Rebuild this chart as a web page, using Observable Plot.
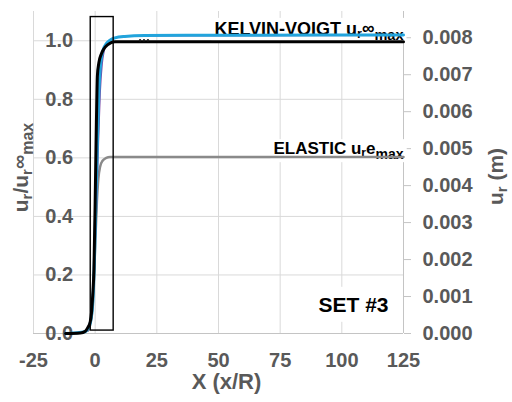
<!DOCTYPE html>
<html><head><meta charset="utf-8">
<script src="https://cdn.jsdelivr.net/npm/d3@7"></script>
<script src="https://cdn.jsdelivr.net/npm/@observablehq/plot@0.6"></script>
<style>body{margin:0;background:#fff}svg{display:block}</style>
</head><body><div id="chart"></div>
<script>
// ---- data ----
const xTicks = [-25, 0, 25, 50, 75, 100, 125];
const yTicks = [0, 0.2, 0.4, 0.6, 0.8, 1.0];
const rightTicks = [0, 0.001, 0.002, 0.003, 0.004, 0.005, 0.006, 0.007, 0.008];
const yMax = 1.1;            // top of the left axis
const rightAtTop = 0.00871;  // right-axis value (m) at the top of the plot

const blackX = [-12, -6, -4, -3, -2, -1.5, -1, -0.5, 0, 0.5, 0.9, 1.5, 2.5, 3.5, 5, 6.5, 8, 125];
const blackY = [0, 0.002, 0.008, 0.02, 0.04, 0.07, 0.13, 0.22, 0.45, 0.72, 0.88, 0.925, 0.955, 0.972, 0.986, 0.994, 0.997, 0.997];

const blueX = [-12, -4, -3, -2, -1, -0.3, 0.3, 0.9, 1.5, 2, 2.7, 3.5, 4.5, 6, 8, 12, 20, 50, 125];
const blueY = [0, 0.006, 0.015, 0.035, 0.1, 0.25, 0.45, 0.65, 0.82, 0.9, 0.95, 0.975, 0.99, 1.002, 1.01, 1.015, 1.018, 1.019, 1.02];

const purpleX = [-3, -1.5, -0.5, 0.5, 1.3, 2, 2.8, 3.6, 4.8, 6.5, 9, 15, 125];
const purpleY = [0.01, 0.06, 0.2, 0.42, 0.65, 0.82, 0.92, 0.965, 0.99, 1.005, 1.012, 1.017, 1.019];

const grayX = [-3, -2, -1, 0, 0.7, 1.3, 2, 3, 4.5, 6, 125];
const grayY = [0.01, 0.03, 0.1, 0.3, 0.45, 0.53, 0.57, 0.59, 0.6, 0.603, 0.603];

const dotX = [18.2, 19.8, 21.4];
const dotY = [1.002, 1.002, 1.002];

const boxX = [-1.8, 7.5];
const boxY = [0.01, 1.081];

// rich-text labels: [text, font-size, baseline shift down (px)]
const kvLabel = [["KELVIN-VOIGT u", 18, 0], ["r", 12.5, 3], ["∞", 17.5, -1], ["max", 14.5, 5]];
const elLabel = [["ELASTIC u", 17, 0], ["r", 12, 3], ["e", 17, 0], ["max", 14, 5]];
const setLabel = [["SET #3", 21, 0]];
const yTitle = [["u", 21, 0], ["r", 15, 4], ["/u", 21, 0], ["r", 15, 4], ["∞", 20, -2], ["max", 16, 5]];
const y2Title = [["u", 21, 0], ["r", 15, 4], [" (m)", 21, 0]];
const xTitle = "X (x/R)";

const plain = parts => parts.map(p => p[0]).join("");
const series = (xs, ys) => xs.map((x, i) => ({x, y: ys[i]}));
const k = yMax / rightAtTop;

const grid = "#d9d9d9", axisCol = "#c4c4c4", labelCol = "#595959";

const svg = Plot.plot({
  width: 512, height: 402,
  marginLeft: 33, marginRight: 109, marginTop: 11, marginBottom: 69,
  x: {domain: [-25, 125]},
  y: {domain: [0, yMax]},
  style: {fontFamily: "'Liberation Sans', Arial, sans-serif", fontWeight: "bold", background: "#fff", overflow: "visible"},
  marks: [
    Plot.gridX(xTicks.filter(d => d < 125), {stroke: grid, strokeOpacity: 1}),
    Plot.gridY(yTicks.filter(d => d > 0), {stroke: grid, strokeOpacity: 1}),
    Plot.ruleY([0], {stroke: axisCol}),
    Plot.ruleX([125], {stroke: axisCol}),
    Plot.axisX(xTicks, {tickSize: 0, tickPadding: 19, fontSize: 20, fill: labelCol, label: null, tickFormat: d => String(d)}),
    Plot.axisY(rightTicks.map(v => v * k), {anchor: "right", tickSize: 7, tickPadding: 12, stroke: axisCol,
      fill: labelCol, fontSize: 20, label: null, tickFormat: d => (d / k).toFixed(3)}),
    Plot.text(yTicks, {x: () => 0, y: d => d, text: d => d.toFixed(1), textAnchor: "end", dx: -22, fontSize: 20, fill: labelCol}),
    Plot.text([xTitle], {frameAnchor: "bottom", dx: 8, dy: 55, fontSize: 22, fill: labelCol}),
    Plot.text([plain(yTitle)], {frameAnchor: "left", rotate: -90, dx: -12, dy: -5, fontSize: 21, fill: labelCol}),
    Plot.text([plain(y2Title)], {frameAnchor: "right", rotate: -90, dx: 93, dy: 4, fontSize: 21, fill: labelCol}),
    Plot.text([plain(kvLabel)], {frameAnchor: "top-right", textAnchor: "end", dy: 10.6, fontSize: 18, fill: "#000"}),
    Plot.text([plain(elLabel)], {frameAnchor: "top-right", textAnchor: "end", dy: 130.6, fontSize: 17, fill: "#000"}),
    Plot.text([plain(setLabel)], {frameAnchor: "bottom-right", textAnchor: "end", dx: -15, dy: -21.7, fontSize: 21, fill: "#000"}),
    Plot.line(series(grayX, grayY), {x: "x", y: "y", stroke: "#8a8a8a", strokeWidth: 2.5, curve: "monotone-x"}),
    Plot.line(series(purpleX, purpleY), {x: "x", y: "y", stroke: "#7b3fa0", strokeWidth: 1.5, curve: "monotone-x"}),
    Plot.line(series(blueX, blueY), {x: "x", y: "y", stroke: "#22a4dc", strokeWidth: 3, curve: "monotone-x"}),
    Plot.line(series(blackX, blackY), {x: "x", y: "y", stroke: "#000", strokeWidth: 3, curve: "monotone-x"}),
    Plot.dot(series(dotX, dotY), {x: "x", y: "y", r: 1.2, fill: "#222"}),
    Plot.rect([0], {x1: () => boxX[0], x2: () => boxX[1], y1: () => boxY[0], y2: () => boxY[1], fill: "none", stroke: "#000", strokeWidth: 1.4})
  ]
});
document.getElementById("chart").appendChild(svg);

const NS = "http://www.w3.org/2000/svg";
function richify(parts, opts = {}) {
  const target = plain(parts);
  svg.querySelectorAll("text").forEach(t => {
    if (t.textContent !== target) return;
    t.textContent = "";
    let prev = 0;
    parts.forEach(([s, size, shift]) => {
      const ts = document.createElementNS(NS, "tspan");
      ts.textContent = s;
      ts.setAttribute("font-size", size);
      if (shift !== prev) ts.setAttribute("dy", shift - prev);
      prev = shift;
      t.appendChild(ts);
    });
    if (opts.center) {
      // keep the whole rich string centred on its anchor
      t.setAttribute("text-anchor", "start");
      const b = t.getBBox();
      t.setAttribute("x", -(b.width / 2) - (b.x - (+t.getAttribute("x") || 0)) );
    }
    if (opts.box) {
      const pad = opts.box;
      const b = t.getBBox();
      const r = document.createElementNS(NS, "rect");
      r.setAttribute("x", b.x - pad[0]);
      r.setAttribute("y", b.y - pad[1]);
      r.setAttribute("width", b.width + 2 * pad[0]);
      r.setAttribute("height", b.height + 2 * pad[1]);
      r.setAttribute("fill", "#fff");
      r.setAttribute("stroke", "none");
      if (t.getAttribute("transform")) r.setAttribute("transform", t.getAttribute("transform"));
      t.parentNode.insertBefore(r, t);
    }
  });
}
richify(kvLabel, {box: [3, 0]});
richify(elLabel, {box: [3, 0]});
richify(setLabel, {box: [5, 6]});
richify(yTitle, {center: true});
richify(y2Title, {center: true});
</script>
</body></html>
